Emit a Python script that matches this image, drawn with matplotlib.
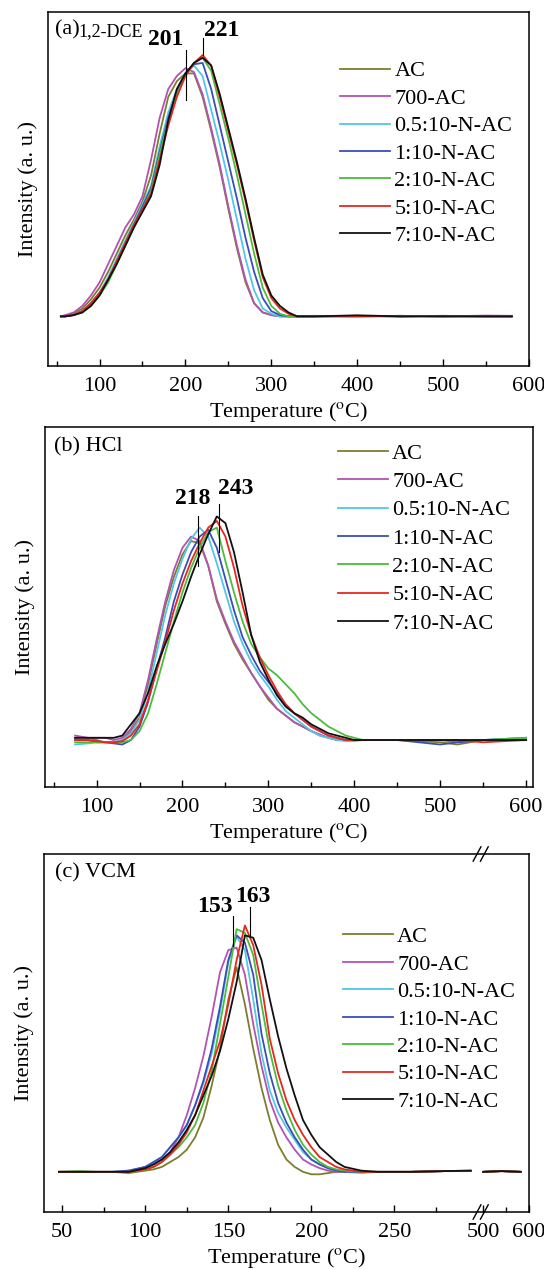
"""TPD-type desorption profiles of 1,2-DCE, HCl and VCM on the AC samples."""

import numpy as np
import matplotlib
matplotlib.use("Agg")
import matplotlib.pyplot as plt
from matplotlib.ticker import MultipleLocator, FixedLocator, FormatStrFormatter

plt.rcParams["font.family"] = ["Liberation Serif", "DejaVu Serif"]
plt.rcParams["mathtext.fontset"] = "stix"

# --- data (intensity normalised to the tallest peak) ---------------------------

labels = ["AC", "700-AC", "0.5:10-N-AC", "1:10-N-AC", "2:10-N-AC", "5:10-N-AC", "7:10-N-AC"]
colors = ["#7d7d2e", "#b452b4", "#52c6e6", "#3b4db8", "#4cbb3e", "#e8261f", "#111111"]

# (a) 1,2-DCE
Ta = [55, 60, 70, 80, 90, 100, 110, 120, 130, 140, 150, 160, 170, 180, 190, 200, 210,
      220, 230, 240, 250, 260, 270, 280, 290, 300, 310, 320, 330, 350, 400, 450, 500, 550, 580]
Ia_ac   = [0, 0, 0.01, 0.03, 0.065, 0.11, 0.17, 0.24, 0.31, 0.37, 0.44, 0.54, 0.70, 0.84, 0.90, 0.93, 0.93,
           0.84, 0.71, 0.57, 0.41, 0.26, 0.13, 0.05, 0.015, 0.005, 0, 0, 0, 0, 0.002, 0, 0.002, 0, 0]
Ia_700  = [0, 0.005, 0.015, 0.04, 0.08, 0.13, 0.20, 0.27, 0.34, 0.39, 0.46, 0.60, 0.76, 0.87, 0.92, 0.95, 0.935,
           0.85, 0.72, 0.58, 0.42, 0.27, 0.14, 0.05, 0.015, 0.005, 0, 0, 0, 0.002, 0, 0.002, 0, 0.003, 0.002]
Ia_05   = [0, 0, 0.005, 0.02, 0.05, 0.09, 0.15, 0.22, 0.29, 0.36, 0.43, 0.50, 0.65, 0.78, 0.87, 0.93, 0.96,
           0.92, 0.79, 0.66, 0.52, 0.37, 0.22, 0.10, 0.03, 0.01, 0, 0, 0, 0, 0, 0.002, 0, 0.002, 0]
Ia_1    = [0, 0, 0.005, 0.02, 0.05, 0.09, 0.14, 0.21, 0.28, 0.35, 0.42, 0.49, 0.63, 0.76, 0.86, 0.93, 0.965,
           0.97, 0.87, 0.73, 0.59, 0.45, 0.30, 0.17, 0.07, 0.02, 0.005, 0, 0, 0, 0.002, 0, 0.002, 0, 0]
Ia_2    = [0, 0, 0.005, 0.015, 0.04, 0.08, 0.13, 0.20, 0.27, 0.34, 0.41, 0.48, 0.62, 0.75, 0.85, 0.92, 0.97,
           0.99, 0.94, 0.81, 0.68, 0.54, 0.39, 0.24, 0.11, 0.04, 0.01, 0, 0, 0, 0, 0.002, 0, 0, 0]
Ia_5    = [0, 0, 0.005, 0.02, 0.05, 0.09, 0.14, 0.21, 0.28, 0.35, 0.41, 0.47, 0.60, 0.73, 0.84, 0.92, 0.97,
           1.0, 0.96, 0.84, 0.71, 0.58, 0.44, 0.29, 0.15, 0.07, 0.03, 0.01, 0, 0, 0, 0, 0, 0, 0]
Ia_7    = [0, 0, 0.005, 0.015, 0.04, 0.08, 0.14, 0.20, 0.27, 0.34, 0.40, 0.46, 0.58, 0.75, 0.87, 0.93, 0.97,
           0.99, 0.96, 0.85, 0.72, 0.59, 0.45, 0.30, 0.16, 0.08, 0.04, 0.015, 0, 0, 0.004, 0, 0, 0, 0]

# (b) HCl
Tb = [75, 90, 100, 110, 120, 130, 140, 150, 160, 170, 180, 190, 200, 210, 220, 230, 240, 250, 260,
      270, 280, 290, 300, 310, 320, 330, 340, 350, 360, 370, 380, 390, 400, 410, 450, 500, 520, 550, 600]
Ib_ac  = [0.01, 0.01, 0.0, -0.01, -0.01, 0.0, 0.04, 0.10, 0.25, 0.43, 0.60, 0.73, 0.83, 0.89, 0.88, 0.78, 0.62,
          0.52, 0.43, 0.36, 0.30, 0.24, 0.18, 0.14, 0.11, 0.08, 0.06, 0.04, 0.02, 0.01, 0, 0, 0, 0, 0,
          -0.01, -0.02, 0, 0.005]
Ib_700 = [0.02, 0.01, 0.01, 0.01, 0.0, 0.01, 0.05, 0.12, 0.27, 0.45, 0.62, 0.76, 0.86, 0.91, 0.89, 0.78, 0.63,
          0.53, 0.44, 0.37, 0.30, 0.24, 0.19, 0.14, 0.11, 0.08, 0.06, 0.04, 0.025, 0.01, 0, 0, 0, 0, 0,
          0, -0.01, 0, 0.01]
Ib_05  = [-0.02, -0.015, -0.01, -0.01, -0.01, 0.0, 0.03, 0.09, 0.22, 0.39, 0.56, 0.70, 0.81, 0.90, 0.95, 0.91,
          0.79, 0.66, 0.53, 0.43, 0.35, 0.29, 0.24, 0.18, 0.13, 0.10, 0.07, 0.04, 0.02, 0.01, 0, -0.005,
          -0.005, 0, 0, 0, 0, 0, 0.01]
Ib_1   = [0.0, 0.0, -0.01, -0.01, -0.015, -0.02, 0.0, 0.06, 0.17, 0.32, 0.46, 0.62, 0.74, 0.84, 0.91, 0.94, 0.86,
          0.72, 0.58, 0.46, 0.38, 0.31, 0.26, 0.21, 0.16, 0.12, 0.09, 0.06, 0.04, 0.02, 0.01, 0, 0, 0, 0,
          -0.02, -0.01, 0, 0.0]
Ib_2   = [-0.01, -0.01, -0.01, -0.01, -0.01, -0.01, 0.0, 0.04, 0.12, 0.25, 0.39, 0.53, 0.66, 0.77, 0.86, 0.93,
          0.95, 0.80, 0.66, 0.53, 0.43, 0.37, 0.32, 0.29, 0.25, 0.21, 0.16, 0.12, 0.09, 0.06, 0.04, 0.02,
          0.01, 0, 0, 0, 0, 0, 0.01]
Ib_5   = [0.0, 0.0, -0.005, -0.01, -0.01, -0.005, 0.02, 0.07, 0.18, 0.31, 0.44, 0.58, 0.70, 0.80, 0.88, 0.95,
          0.98, 0.91, 0.77, 0.60, 0.47, 0.37, 0.29, 0.22, 0.16, 0.12, 0.09, 0.06, 0.04, 0.02, 0.01, 0, 0, 0,
          0, 0, 0, -0.01, 0]
Ib_7   = [0.01, 0.01, 0.01, 0.01, 0.01, 0.02, 0.07, 0.12, 0.21, 0.33, 0.43, 0.52, 0.62, 0.73, 0.83, 0.92, 1.0,
          0.97, 0.84, 0.66, 0.47, 0.35, 0.27, 0.20, 0.15, 0.12, 0.10, 0.07, 0.05, 0.03, 0.02, 0.01, 0, 0, 0,
          0, 0, 0, 0]

# (c) VCM, low-temperature part plus a short baseline beyond the axis break
Tc = [48, 60, 70, 80, 90, 100, 105, 110, 115, 120, 125, 130, 135, 140, 145, 150, 155, 160, 165, 170,
      175, 180, 185, 190, 195, 200, 205, 210, 215, 220, 230, 240, 260, 280, 296]
Ic_ac  = [0, 0.002, 0, 0, -0.005, 0.005, 0.01, 0.02, 0.04, 0.06, 0.09, 0.14, 0.22, 0.35, 0.50, 0.70, 0.83,
          0.68, 0.50, 0.34, 0.21, 0.11, 0.05, 0.02, 0.0, -0.01, -0.01, -0.005, 0, 0, 0, 0, 0, 0.003, 0.005]
Ic_700 = [0, 0, 0, 0, 0.0, 0.02, 0.035, 0.05, 0.08, 0.14, 0.23, 0.34, 0.47, 0.63, 0.81, 0.90, 0.91, 0.80,
          0.60, 0.43, 0.29, 0.20, 0.14, 0.09, 0.05, 0.03, 0.015, 0.005, 0, 0, 0, 0, 0, 0.003, 0.003]
Ic_05  = [0, 0, 0, 0, 0.005, 0.02, 0.04, 0.06, 0.10, 0.14, 0.19, 0.27, 0.36, 0.48, 0.65, 0.85, 0.955, 0.90,
          0.70, 0.48, 0.33, 0.24, 0.18, 0.13, 0.08, 0.05, 0.03, 0.015, 0.005, 0, -0.005, 0, 0, 0.003, 0.003]
Ic_1   = [0, 0, 0, 0, 0.005, 0.02, 0.04, 0.06, 0.10, 0.14, 0.19, 0.27, 0.37, 0.50, 0.67, 0.86, 0.96, 0.93,
          0.80, 0.56, 0.40, 0.28, 0.20, 0.14, 0.09, 0.05, 0.03, 0.015, 0.005, 0, 0, 0, 0, 0.003, 0.003]
Ic_2   = [0, 0.002, 0, 0, 0.0, 0.01, 0.02, 0.04, 0.07, 0.10, 0.14, 0.19, 0.28, 0.41, 0.60, 0.79, 0.985, 0.97,
          0.88, 0.68, 0.49, 0.35, 0.25, 0.17, 0.11, 0.07, 0.04, 0.02, 0.01, 0.005, 0, 0, 0, 0.003, 0.003]
Ic_5   = [0, 0, 0, 0, 0.0, 0.01, 0.02, 0.04, 0.07, 0.11, 0.16, 0.23, 0.33, 0.43, 0.53, 0.68, 0.86, 1.0,
          0.92, 0.76, 0.54, 0.40, 0.29, 0.21, 0.15, 0.10, 0.06, 0.04, 0.02, 0.01, 0, 0, 0, 0.003, 0.003]
Ic_7   = [0, 0, 0, 0, 0.0, 0.015, 0.03, 0.05, 0.08, 0.12, 0.17, 0.23, 0.31, 0.39, 0.49, 0.62, 0.77, 0.96,
          0.95, 0.86, 0.70, 0.55, 0.42, 0.31, 0.21, 0.15, 0.10, 0.07, 0.04, 0.02, 0.005, 0, 0, 0.003, 0.005]
Tc_tail = [500, 540, 582]
Ic_tail = [0.0, 0.003, 0.0]

peaks_a = [201, 221]
peaks_b = [218, 243]
peaks_c = [153, 163]

# --- axis break for panel (c) ---------------------------------------------------

B1, B2, EPS, K = 302.0, 495.0, 0.001, 0.2753


def fwd(x):
    x = np.asarray(x, float)
    mid = B1 + (x - B1) * EPS
    hi = B1 + (B2 - B1) * EPS + (x - B2) * K
    return np.where(x <= B1, x, np.where(x >= B2, hi, mid))


def inv(y):
    y = np.asarray(y, float)
    top = B1 + (B2 - B1) * EPS
    return np.where(y <= B1, y,
                    np.where(y >= top, B2 + (y - top) / K, B1 + (y - B1) / EPS))


# --- figure ------------------------------------------------------------------

fig = plt.figure(figsize=(5.44, 12.69), dpi=100)
W, H = 544.0, 1269.0


def make_axes(l, t, r, b):
    return fig.add_axes([l / W, 1 - b / H, (r - l) / W, (b - t) / H])


ax_a = make_axes(48, 12, 529, 366)
ax_b = make_axes(45, 427, 533, 787)
ax_c = make_axes(44, 854, 529, 1212)

FS = 16


def style(ax):
    for s in ax.spines.values():
        s.set_linewidth(1.1)
    ax.tick_params(axis="x", which="both", direction="in", labelsize=FS, pad=8, width=1.0)
    ax.tick_params(axis="x", which="major", length=5)
    ax.tick_params(axis="x", which="minor", length=3.5)
    ax.set_yticks([])
    ax.set_xlabel(r"Temperature ($^{\rm o}$C)", fontsize=FS, labelpad=3)
    ax.set_ylabel("Intensity (a. u.)", fontsize=FS, labelpad=7)


def peak_marks(ax, peaks, segs, txt_pos):
    for p, (y0, y1), (tx, ty) in zip(peaks, segs, txt_pos):
        ax.plot([p, p], [y0, y1], color="k", lw=0.8)
        ax.text(tx, ty, str(p), fontsize=17, fontweight="bold", ha="center", va="center")


def add_legend(ax, x, y, spacing):
    ax.legend(loc="upper left", bbox_to_anchor=(x, y), frameon=False, fontsize=FS,
              handlelength=2.25, handletextpad=0.2, labelspacing=spacing,
              borderpad=0, borderaxespad=0)


LW = 1.3

# (a)
for y, c, lab in zip([Ia_ac, Ia_700, Ia_05, Ia_1, Ia_2, Ia_5, Ia_7], colors, labels):
    ax_a.plot(Ta, y, color=c, lw=LW, label=lab)
ax_a.set_xlim(40, 600)
ax_a.set_ylim(-0.19, 1.165)
ax_a.xaxis.set_major_locator(MultipleLocator(100))
ax_a.xaxis.set_minor_locator(MultipleLocator(50))
style(ax_a)
ax_a.text(0.015, 0.949, "(a)", transform=ax_a.transAxes, fontsize=FS, va="center")
ax_a.text(0.063, 0.945, "1,2-DCE", transform=ax_a.transAxes, fontsize=13, va="center")
peak_marks(ax_a, peaks_a, [(0.83, 1.02), (1.0, 1.065)], [(177, 1.06), (242, 1.095)])
add_legend(ax_a, 0.607, 0.862, 0.31)

# (b)
for y, c, lab in zip([Ib_ac, Ib_700, Ib_05, Ib_1, Ib_2, Ib_5, Ib_7], colors, labels):
    ax_b.plot(Tb, y, color=c, lw=LW, label=lab)
ax_b.set_xlim(40, 608)
ax_b.set_ylim(-0.21, 1.40)
ax_b.xaxis.set_major_locator(MultipleLocator(100))
ax_b.xaxis.set_minor_locator(MultipleLocator(50))
style(ax_b)
ax_b.text(0.019, 0.944, "(b) HCl", transform=ax_b.transAxes, fontsize=FS, va="center")
peak_marks(ax_b, peaks_b, [(0.78, 1.0), (0.84, 1.054)], [(212, 1.08), (262, 1.125)])
add_legend(ax_b, 0.600, 0.955, 0.35)

# (c)
ax_c.set_xscale("function", functions=(fwd, inv))
for y, c, lab in zip([Ic_ac, Ic_700, Ic_05, Ic_1, Ic_2, Ic_5, Ic_7], colors, labels):
    xs = np.r_[Tc, np.nan, Tc_tail]
    ys = np.r_[y, np.nan, Ic_tail]
    ax_c.plot(xs, ys, color=c, lw=LW, label=lab)
ax_c.set_xlim(39, 600)
ax_c.set_ylim(-0.163, 1.29)
ax_c.xaxis.set_major_locator(FixedLocator([50, 100, 150, 200, 250, 500, 600]))
ax_c.xaxis.set_minor_locator(FixedLocator([75, 125, 175, 225, 275, 550]))
ax_c.xaxis.set_major_formatter(FormatStrFormatter("%d"))
style(ax_c)
ax_c.text(0.023, 0.947, "(c) VCM", transform=ax_c.transAxes, fontsize=FS, va="center")
peak_marks(ax_c, peaks_c, [(0.915, 1.037), (0.963, 1.073)], [(142, 1.077), (164.5, 1.118)])
add_legend(ax_c, 0.616, 0.797, 0.31)

# break marks on top and bottom spines
xb = ax_c.transAxes.inverted().transform(ax_c.transData.transform((B1, 0)))[0]
for yb in (0.0, 1.0):
    for sx in (-0.0075, 0.0075):
        ax_c.plot([xb + sx - 0.008, xb + sx + 0.008], [yb - 0.02, yb + 0.02],
                  transform=ax_c.transAxes, clip_on=False, color="k", lw=1.0)

fig.savefig("out.png", dpi=100)
